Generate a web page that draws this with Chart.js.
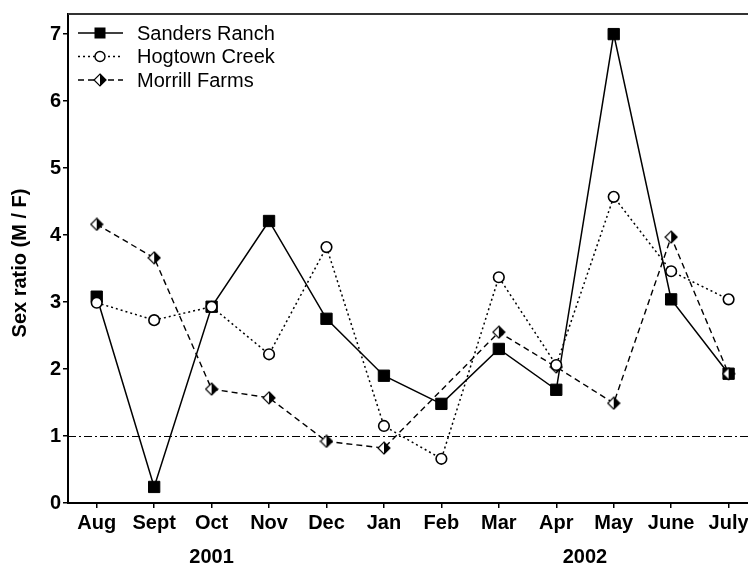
<!DOCTYPE html>
<html>
<head>
<meta charset="utf-8">
<script src="https://cdn.jsdelivr.net/npm/chart.js@4.4.1/dist/chart.umd.min.js"></script>
<style>
  html, body { margin: 0; padding: 0; background: #fff; overflow: hidden; width: 748px; height: 567px; }
  canvas { display: block; }
</style>
</head>
<body>
<canvas id="ratio" width="760" height="567"></canvas>
<script>
// datos
const meses = ['Aug', 'Sept', 'Oct', 'Nov', 'Dec', 'Jan', 'Feb', 'Mar', 'Apr', 'May', 'June', 'July'];
const sanders = [3.08, 0.24, 2.93, 4.21, 2.75, 1.90, 1.48, 2.30, 1.69, 7.00, 3.04, 1.93];
const hogtown = [2.99, 2.73, 2.93, 2.22, 3.82, 1.15, 0.66, 3.37, 2.06, 4.57, 3.46, 3.04];
const morrill = [4.16, 3.66, 1.70, 1.57, 0.92, 0.82, null, 2.55, 2.03, 1.49, 3.97, 1.93];
const nombres = ['Sanders Ranch', 'Hogtown Creek', 'Morrill Farms'];
const anios = [{ texto: '2001', pos: 2 }, { texto: '2002', pos: 8.5 }];
const yTicks = [0, 1, 2, 3, 4, 5, 6, 7];
const tituloY = 'Sex ratio (M / F)';

const FUENTE = '"Liberation Sans", Arial, sans-serif';

// rombo medio relleno (izq blanco, der negro)
function rombo() {
  const c = document.createElement('canvas');
  c.width = 14; c.height = 14;
  const g = c.getContext('2d');
  g.beginPath(); g.moveTo(7, 1); g.lineTo(7, 13); g.lineTo(1, 7); g.closePath();
  g.fillStyle = '#fff'; g.fill();
  g.beginPath(); g.moveTo(7, 1); g.lineTo(13, 7); g.lineTo(7, 13); g.closePath();
  g.fillStyle = '#000'; g.fill();
  g.beginPath(); g.moveTo(7, 1); g.lineTo(13, 7); g.lineTo(7, 13); g.lineTo(1, 7); g.closePath();
  g.strokeStyle = '#000'; g.lineWidth = 1.2; g.stroke();
  return c;
}
const romboImg = rombo();

const aPuntos = arr => arr.map((v, i) => ({ x: i, y: v }));

const series = [
  { label: nombres[0], data: aPuntos(sanders), borderColor: '#000', borderWidth: 1.5, borderDash: [],
    pointStyle: 'rect', pointRadius: 8, pointBackgroundColor: '#000', pointBorderColor: '#000', pointBorderWidth: 1, order: 2 },
  { label: nombres[1], data: aPuntos(hogtown), borderColor: '#000', borderWidth: 1.5, borderDash: [2, 3],
    pointStyle: 'circle', pointRadius: 5.3, pointBackgroundColor: '#fff', pointBorderColor: '#000', pointBorderWidth: 1.6, order: 0 },
  { label: nombres[2], data: aPuntos(morrill), borderColor: '#000', borderWidth: 1.4, borderDash: [6, 4],
    pointStyle: romboImg, pointRadius: 7, order: 1, spanGaps: true }
];
series.forEach(s => { s.fill = false; s.tension = 0; s.pointHoverRadius = s.pointRadius; });

// linea de referencia y=1, borde superior, leyenda, anios y titulo del eje y
const extras = {
  id: 'extras',
  beforeDatasetsDraw(chart) {
    const { ctx, chartArea, scales } = chart;
    const y = Math.round(scales.y.getPixelForValue(1)) + 0.5;
    ctx.save();
    ctx.strokeStyle = '#000'; ctx.lineWidth = 1;
    ctx.setLineDash([8, 3, 2, 3]);
    ctx.beginPath(); ctx.moveTo(chartArea.left, y); ctx.lineTo(chartArea.right, y); ctx.stroke();
    ctx.setLineDash([]);
    ctx.strokeStyle = '#333'; ctx.lineWidth = 2;
    ctx.beginPath(); ctx.moveTo(chartArea.left, chartArea.top); ctx.lineTo(chartArea.right, chartArea.top); ctx.stroke();
    ctx.restore();
  },
  afterDraw(chart) {
    const { ctx, scales } = chart;
    ctx.save();
    // leyenda
    ctx.font = '20px ' + FUENTE;
    ctx.textBaseline = 'middle';
    ctx.textAlign = 'left';
    series.forEach((s, i) => {
      const y = 33 + i * 23.5;
      ctx.strokeStyle = '#000'; ctx.lineWidth = s.borderWidth;
      ctx.setLineDash(s.borderDash);
      ctx.beginPath(); ctx.moveTo(78, y); ctx.lineTo(123, y); ctx.stroke();
      ctx.setLineDash([]);
      if (s.pointStyle === 'rect') {
        ctx.fillStyle = '#000'; ctx.fillRect(94.5, y - 5.5, 11, 11);
      } else if (s.pointStyle === 'circle') {
        ctx.beginPath(); ctx.arc(100, y, 5, 0, Math.PI * 2);
        ctx.fillStyle = '#fff'; ctx.fill(); ctx.lineWidth = 1.4; ctx.stroke();
      } else {
        ctx.drawImage(romboImg, 93, y - 7, 14, 14);
      }
      ctx.fillStyle = '#000';
      ctx.fillText(s.label, 137, y + 1);
    });
    // anios
    ctx.font = 'bold 20px ' + FUENTE;
    ctx.textAlign = 'center';
    anios.forEach(a => ctx.fillText(a.texto, scales.x.getPixelForValue(a.pos), 557));
    // titulo eje y
    ctx.translate(20, 263);
    ctx.rotate(-Math.PI / 2);
    ctx.fillText(tituloY, 0, 0);
    ctx.restore();
  }
};

const ctx = document.getElementById('ratio').getContext('2d');
const chart = new Chart(ctx, {
  type: 'line',
  data: { datasets: series },
  options: {
    responsive: false,
    animation: false,
    devicePixelRatio: 1,
    layout: { padding: { top: 14, right: 0, left: 0, bottom: 0 } },
    plugins: { legend: { display: false }, tooltip: { enabled: false } },
    scales: {
      x: {
        type: 'linear', min: -0.5, max: 11.39,
        afterBuildTicks: s => { s.ticks = meses.map((m, i) => ({ value: i })); },
        afterFit: s => { s.height = 64; },
        ticks: { autoSkip: false, maxRotation: 0, padding: 3, color: '#000',
          font: { family: FUENTE, size: 20, weight: 'bold' },
          callback: v => meses[v] },
        grid: { drawOnChartArea: false, drawTicks: true, tickLength: 5, color: '#000', lineWidth: 1.5 },
        border: { display: true, color: '#000', width: 2 }
      },
      y: {
        min: 0, max: 7.3,
        afterBuildTicks: s => { s.ticks = yTicks.map(v => ({ value: v })); },
        afterFit: s => { s.width = 68; },
        ticks: { padding: 2, color: '#000', font: { family: FUENTE, size: 20, weight: 'bold' } },
        grid: { drawOnChartArea: false, drawTicks: true, tickLength: 5, color: '#000', lineWidth: 1.5 },
        border: { display: true, color: '#000', width: 2 }
      }
    }
  },
  plugins: [extras]
});
</script>
</body>
</html>
